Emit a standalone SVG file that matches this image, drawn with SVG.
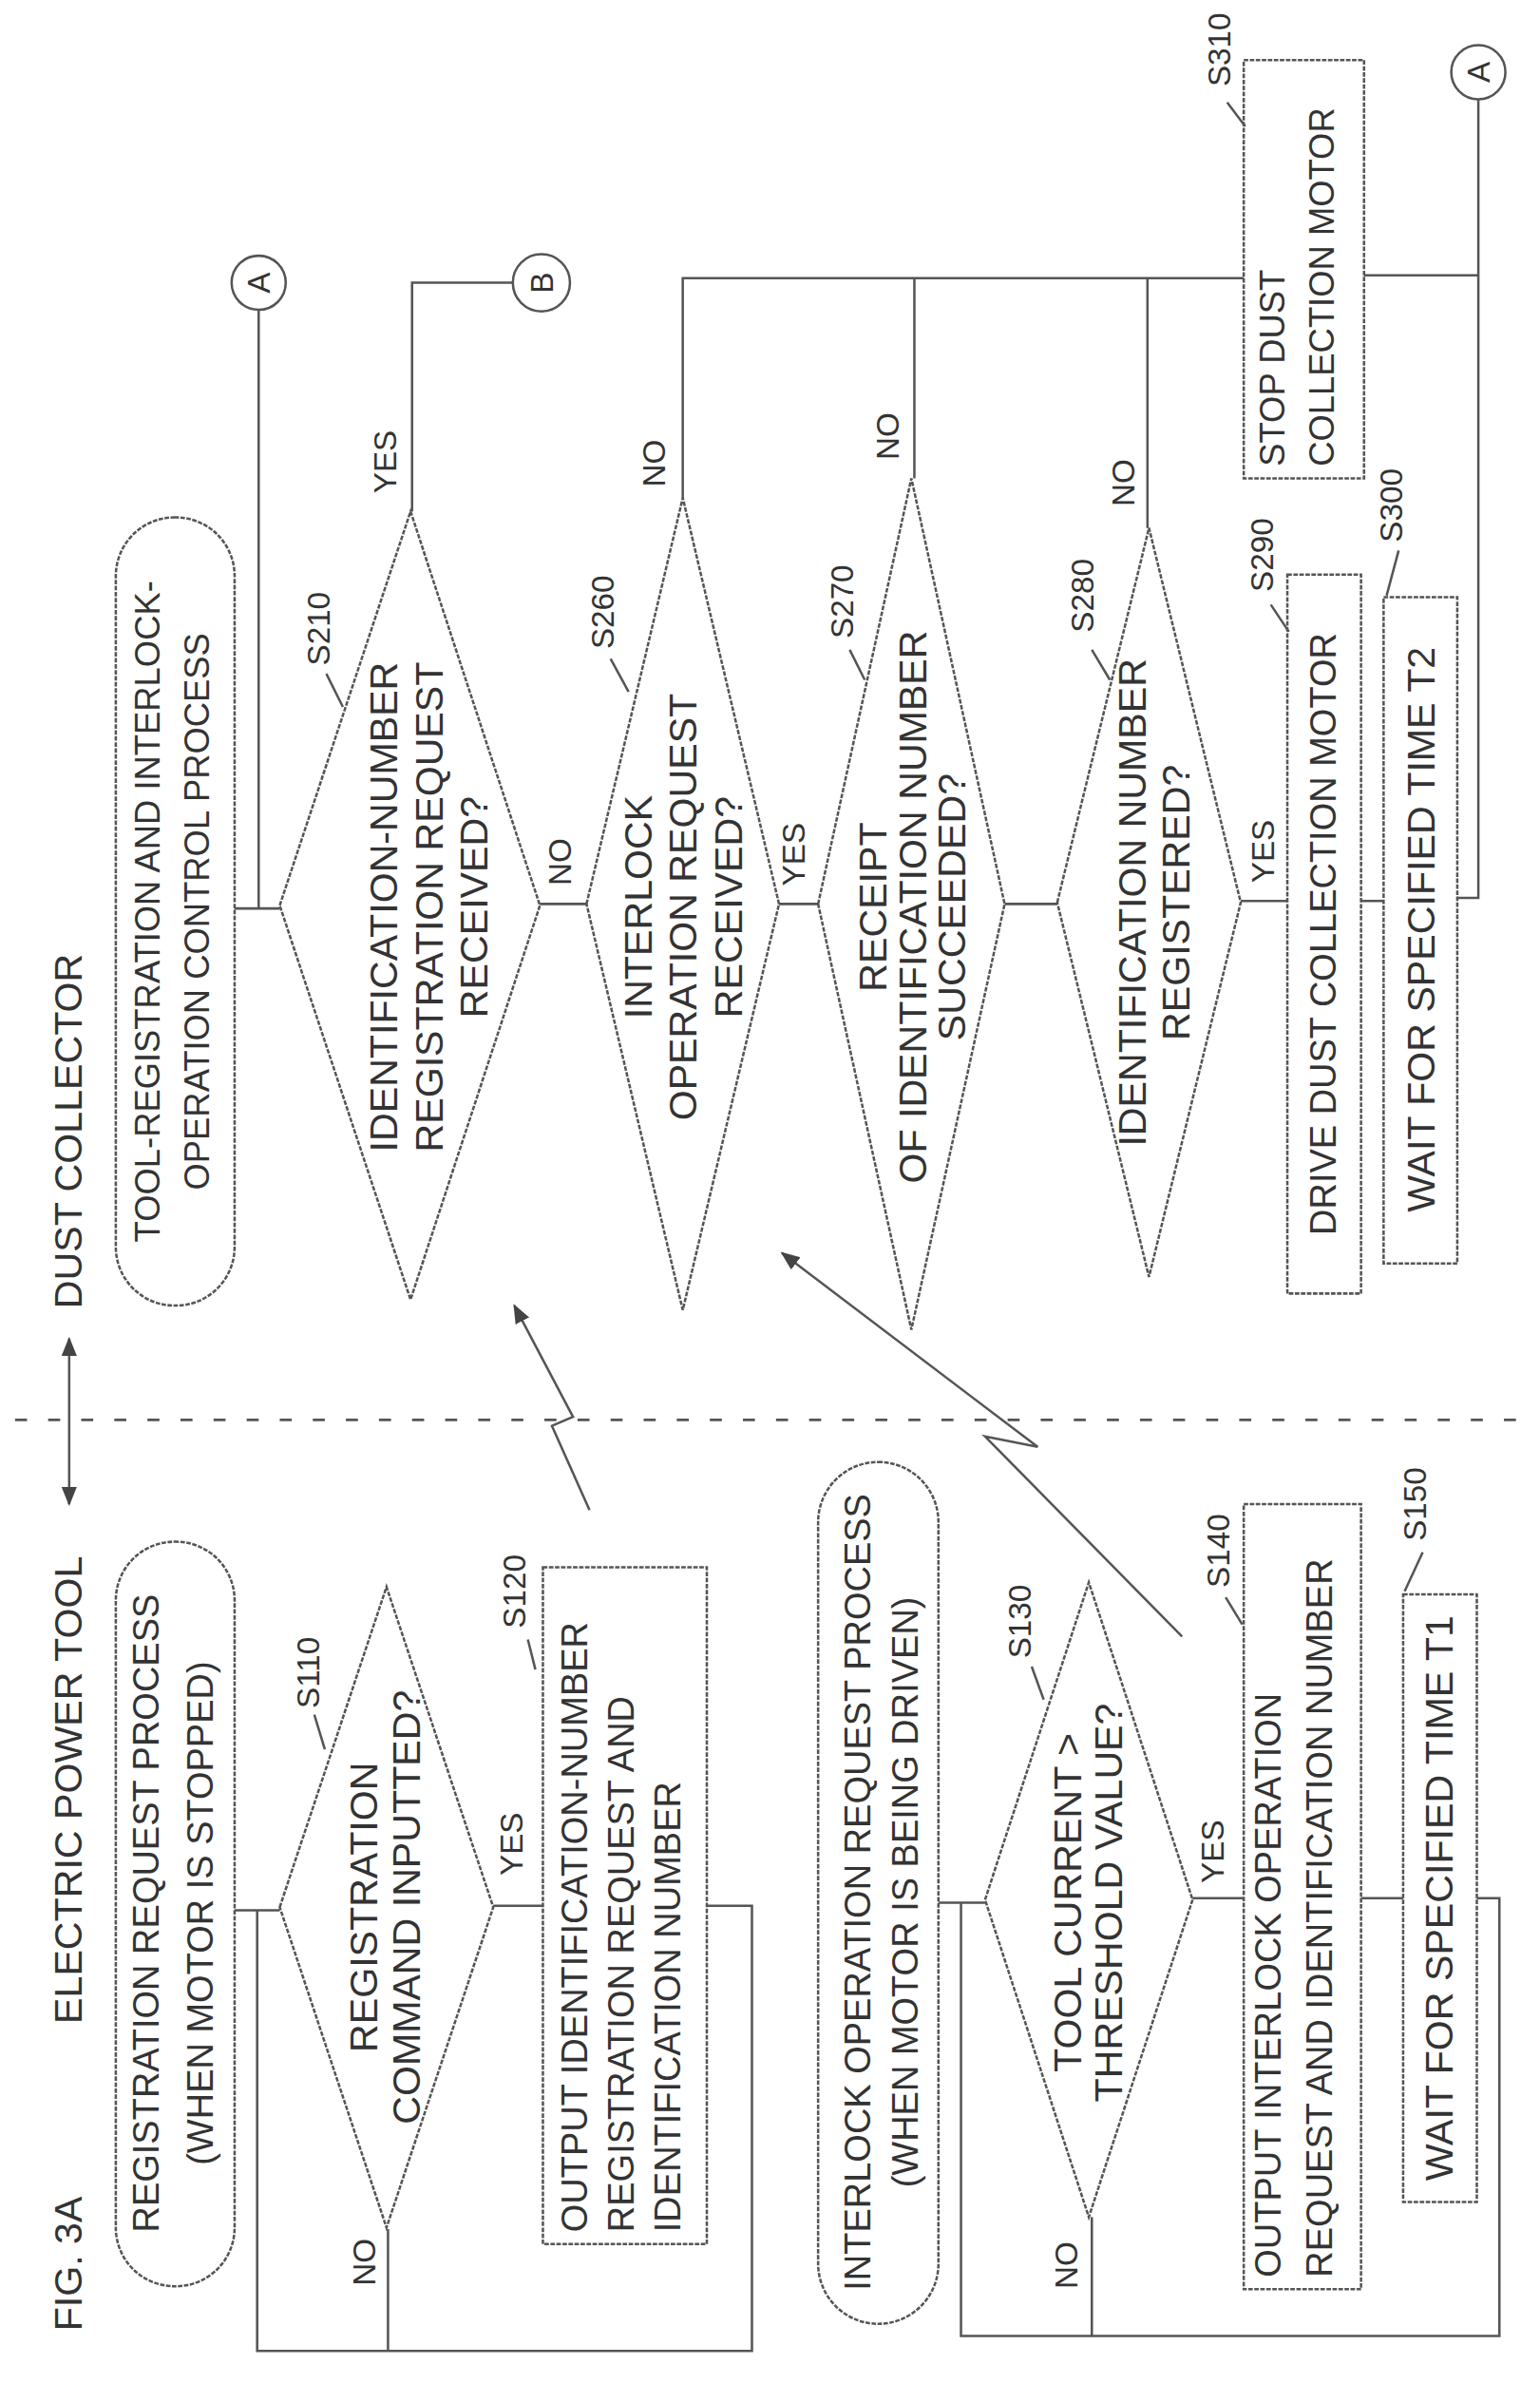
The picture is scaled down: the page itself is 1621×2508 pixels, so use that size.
<svg xmlns="http://www.w3.org/2000/svg" width="1621" height="2508" viewBox="0 0 1621 2508">
<style>
.ln{fill:none;stroke:#555;stroke-width:1.6}
.bx{fill:none;stroke:#555;stroke-width:1.6;stroke-dasharray:3 1}
.t{font-family:"Liberation Sans",Arial,sans-serif;font-size:26px;fill:#333;text-anchor:middle}
.m{font-size:24px}
.n{font-size:23px}
.s{text-anchor:start}
.lb{font-family:"Liberation Sans",Arial,sans-serif;font-size:21px;fill:#333;text-anchor:middle}
</style>
<defs>
<marker id="ah" viewBox="0 0 10 10" refX="9" refY="5" markerWidth="8" markerHeight="8" orient="auto-start-reverse"><path d="M0,1 L10,5 L0,9 z" fill="#444"/></marker>
</defs>
<rect width="1621" height="2508" fill="#fff"/>
<g transform="scale(1.58301)">
<g id="header">
<text class="t" transform="translate(45,1505) rotate(-90)" dy="0.35em">FIG. 3A</text>
<text class="t" transform="translate(45,1190) rotate(-90)" dy="0.35em">ELECTRIC POWER TOOL</text>
<text class="t" transform="translate(45,752) rotate(-90)" dy="0.35em">DUST COLLECTOR</text>
<line class="ln" x1="46" y1="890" x2="46" y2="1000" marker-start="url(#ah)" marker-end="url(#ah)"/>
<line x1="10" y1="944" x2="1015" y2="944" stroke="#555" stroke-width="1.6" stroke-dasharray="8 14"/>
</g>
<g id="connectors">
<polyline class="ln" points="156,1270 186,1270"/>
<polyline class="ln" points="470,1267 500,1267 500,1563 171,1563 171,1270"/>
<polyline class="ln" points="258,1482 258,1563"/>
<polyline class="ln" points="328,1267 361,1267"/>
<polyline class="ln" points="624,1265 655,1265"/>
<polyline class="ln" points="905,1262 933,1262"/>
<polyline class="ln" points="982,1262 997,1262 997,1553 639,1553 639,1265"/>
<polyline class="ln" points="726,1474 726,1553"/>
<polyline class="ln" points="793,1262 827,1262"/>
<polyline class="ln" points="156,604 186,604"/>
<polyline class="ln" points="172,206 172,604"/>
<polyline class="ln" points="274,340 274,188 341,188"/>
<polyline class="ln" points="359,601 390,601"/>
<polyline class="ln" points="454,331 454,185 827,185"/>
<polyline class="ln" points="608,318 608,185"/>
<polyline class="ln" points="763,351 763,185"/>
<polyline class="ln" points="907,183 983,183"/>
<polyline class="ln" points="983,66 983,597 969,597"/>
<polyline class="ln" points="518,601 544,601"/>
<polyline class="ln" points="668,601 703,601"/>
<polyline class="ln" points="825,599 856,599"/>
<polyline class="ln" points="905,599 920,599"/>
<polyline class="ln" points="392,1004 367,948 381,942 342,868" marker-end="url(#ah)"/>
<polyline class="ln" points="786,1088 655,955 690,962 520,833" marker-end="url(#ah)"/>
<path class="ln" d="M209,1140 L216,1163 M351,1090 L356,1110 M686,1108 L694,1130 M815,1062 L826,1080 M946,1032 L934,1058 M217,448 L228,470 M406,438 L418,460 M565,432 L575,452 M726,432 L738,452 M845,402 L857,420 M930,366 L922,396 M816,68 L828,84"/>
</g>
<g id="T1"><rect class="bx" x="77" y="1025" width="79" height="495" rx="39"/>
<text class="t m" transform="translate(97,1272) rotate(-90)" dy="0.35em">REGISTRATION REQUEST PROCESS</text>
<text class="t m" transform="translate(133,1272) rotate(-90)" dy="0.35em">(WHEN MOTOR IS STOPPED)</text></g>
<g id="S110"><polygon class="bx" points="186,1268 257,1055 328,1268 257,1481"/>
<text class="t" transform="translate(242,1268) rotate(-90)" dy="0.35em">REGISTRATION</text>
<text class="t" transform="translate(270,1268) rotate(-90)" dy="0.35em">COMMAND INPUTTED?</text>
<text class="lb" transform="translate(205,1112) rotate(-90)" dy="0.35em">S110</text>
<text class="lb" transform="translate(340,1226) rotate(-90)" dy="0.35em">YES</text>
<text class="lb" transform="translate(242,1504) rotate(-90)" dy="0.35em">NO</text></g>
<g id="S120"><rect class="bx" x="361" y="1042" width="109" height="450"/>
<text class="t s m" transform="translate(382,1484) rotate(-90)" dy="0.35em">OUTPUT IDENTIFICATION-NUMBER</text>
<text class="t s m" transform="translate(413,1484) rotate(-90)" dy="0.35em">REGISTRATION REQUEST AND</text>
<text class="t s m" transform="translate(444,1484) rotate(-90)" dy="0.35em">IDENTIFICATION NUMBER</text>
<text class="lb" transform="translate(342,1058) rotate(-90)" dy="0.35em">S120</text></g>
<g id="T2"><rect class="bx" x="544" y="972" width="80" height="573" rx="40"/>
<text class="t m" transform="translate(570,1258) rotate(-90)" dy="0.35em">INTERLOCK OPERATION REQUEST PROCESS</text>
<text class="t m" transform="translate(602,1258) rotate(-90)" dy="0.35em">(WHEN MOTOR IS BEING DRIVEN)</text></g>
<g id="S130"><polygon class="bx" points="655,1263 724,1052 793,1263 724,1474"/>
<text class="t" transform="translate(710,1265) rotate(-90)" dy="0.35em">TOOL CURRENT &gt;</text>
<text class="t" transform="translate(737,1265) rotate(-90)" dy="0.35em">THRESHOLD VALUE?</text>
<text class="lb" transform="translate(678,1078) rotate(-90)" dy="0.35em">S130</text>
<text class="lb" transform="translate(806,1231) rotate(-90)" dy="0.35em">YES</text>
<text class="lb" transform="translate(709,1506) rotate(-90)" dy="0.35em">NO</text></g>
<g id="S140"><rect class="bx" x="827" y="1000" width="78" height="522"/>
<text class="t s m" transform="translate(843,1514) rotate(-90)" dy="0.35em">OUTPUT INTERLOCK OPERATION</text>
<text class="t s m" transform="translate(877,1514) rotate(-90)" dy="0.35em">REQUEST AND IDENTIFICATION NUMBER</text>
<text class="lb" transform="translate(810,1031) rotate(-90)" dy="0.35em">S140</text></g>
<g id="S150"><rect class="bx" x="933" y="1060" width="49" height="404"/>
<text class="t" transform="translate(957,1262) rotate(-90)" dy="0.35em">WAIT FOR SPECIFIED TIME T1</text>
<text class="lb" transform="translate(941,1000) rotate(-90)" dy="0.35em">S150</text></g>
<g id="T3"><rect class="bx" x="77" y="344" width="79" height="524" rx="39"/>
<text class="t n" transform="translate(98,606) rotate(-90)" dy="0.35em">TOOL-REGISTRATION AND INTERLOCK-</text>
<text class="t n" transform="translate(131,606) rotate(-90)" dy="0.35em">OPERATION CONTROL PROCESS</text></g>
<g id="A1"><circle class="ln" cx="172" cy="188" r="18"/><text class="lb" transform="translate(172,188) rotate(-90)" dy="0.35em">A</text></g>
<g id="B"><circle class="ln" cx="360" cy="188" r="19"/><text class="lb" transform="translate(360,188) rotate(-90)" dy="0.35em">B</text></g>
<g id="A2"><circle class="ln" cx="983" cy="48" r="18"/><text class="lb" transform="translate(983,48) rotate(-90)" dy="0.35em">A</text></g>
<g id="S210"><polygon class="bx" points="186,602 273,340 359,602 273,864"/>
<text class="t" transform="translate(255,603) rotate(-90)" dy="0.35em">IDENTIFICATION-NUMBER</text>
<text class="t" transform="translate(285,603) rotate(-90)" dy="0.35em">REGISTRATION REQUEST</text>
<text class="t" transform="translate(315,603) rotate(-90)" dy="0.35em">RECEIVED?</text>
<text class="lb" transform="translate(212,418) rotate(-90)" dy="0.35em">S210</text>
<text class="lb" transform="translate(256,307) rotate(-90)" dy="0.35em">YES</text>
<text class="lb" transform="translate(372,573) rotate(-90)" dy="0.35em">NO</text></g>
<g id="S260"><polygon class="bx" points="390,601 454,331 518,601 454,871"/>
<text class="t" transform="translate(424,603) rotate(-90)" dy="0.35em">INTERLOCK</text>
<text class="t" transform="translate(454,603) rotate(-90)" dy="0.35em">OPERATION REQUEST</text>
<text class="t" transform="translate(484,603) rotate(-90)" dy="0.35em">RECEIVED?</text>
<text class="lb" transform="translate(401,407) rotate(-90)" dy="0.35em">S260</text>
<text class="lb" transform="translate(435,308) rotate(-90)" dy="0.35em">NO</text>
<text class="lb" transform="translate(528,568) rotate(-90)" dy="0.35em">YES</text></g>
<g id="S270"><polygon class="bx" points="544,601 606,318 668,601 606,884"/>
<text class="t" transform="translate(580,603) rotate(-90)" dy="0.35em">RECEIPT</text>
<text class="t" transform="translate(607,603) rotate(-90)" dy="0.35em">OF IDENTIFICATION NUMBER</text>
<text class="t" transform="translate(633,603) rotate(-90)" dy="0.35em">SUCCEEDED?</text>
<text class="lb" transform="translate(560,400) rotate(-90)" dy="0.35em">S270</text>
<text class="lb" transform="translate(590,290) rotate(-90)" dy="0.35em">NO</text></g>
<g id="S280"><polygon class="bx" points="703,600 764,351 825,600 764,849"/>
<text class="t" transform="translate(753,600) rotate(-90)" dy="0.35em">IDENTIFICATION NUMBER</text>
<text class="t" transform="translate(782,600) rotate(-90)" dy="0.35em">REGISTERED?</text>
<text class="lb" transform="translate(720,396) rotate(-90)" dy="0.35em">S280</text>
<text class="lb" transform="translate(747,321) rotate(-90)" dy="0.35em">NO</text>
<text class="lb" transform="translate(840,566) rotate(-90)" dy="0.35em">YES</text></g>
<g id="S290"><rect class="bx" x="856" y="382" width="49" height="478"/>
<text class="t m" transform="translate(880,621) rotate(-90)" dy="0.35em">DRIVE DUST COLLECTION MOTOR</text>
<text class="lb" transform="translate(839,369) rotate(-90)" dy="0.35em">S290</text></g>
<g id="S300"><rect class="bx" x="920" y="397" width="49" height="443"/>
<text class="t" transform="translate(945,618) rotate(-90)" dy="0.35em">WAIT FOR SPECIFIED TIME T2</text>
<text class="lb" transform="translate(925,336) rotate(-90)" dy="0.35em">S300</text></g>
<g id="S310"><rect class="bx" x="827" y="40" width="80" height="278"/>
<text class="t s n" transform="translate(846,310) rotate(-90)" dy="0.35em">STOP DUST</text>
<text class="t s n" transform="translate(879,310) rotate(-90)" dy="0.35em">COLLECTION MOTOR</text>
<text class="lb" transform="translate(811,33) rotate(-90)" dy="0.35em">S310</text></g>
</g>
</svg>
